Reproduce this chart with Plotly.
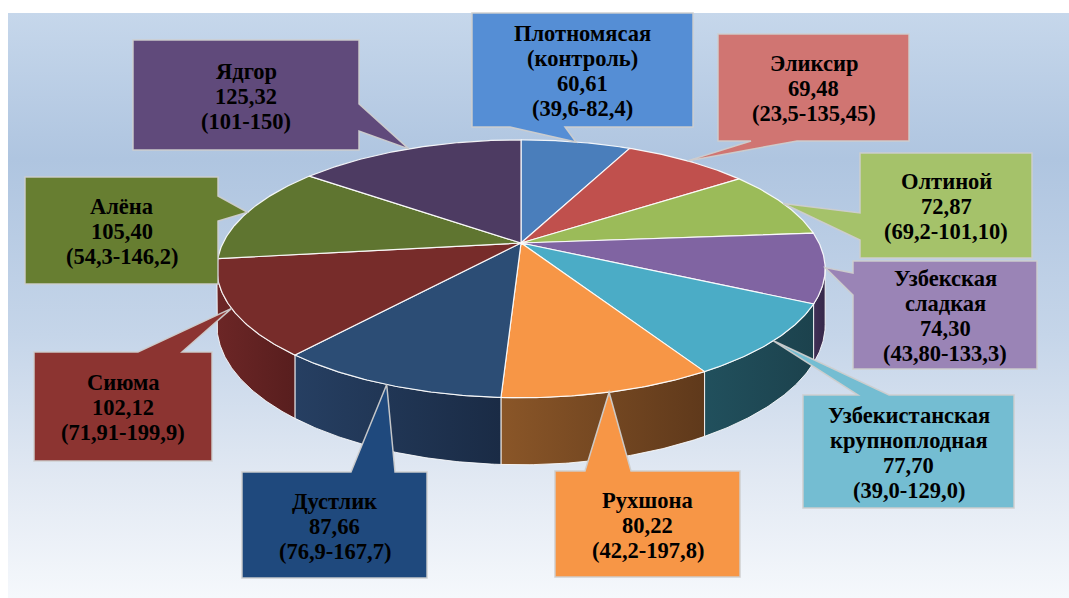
import numpy as np
import plotly.graph_objects as go

# ---------------- data ----------------
names = ["Плотномясая\n(контроль)", "Эликсир", "Олтиной", "Узбекская\nсладкая",
         "Узбекистанская\nкрупноплодная", "Рухшона", "Дустлик", "Сиюма", "Алёна", "Ядгор"]
values = [60.61, 69.48, 72.87, 74.30, 77.70, 80.22, 87.66, 102.12, 105.40, 125.32]
ranges = ["(39,6-82,4)", "(23,5-135,45)", "(69,2-101,10)", "(43,80-133,3)", "(39,0-129,0)",
          "(42,2-197,8)", "(76,9-167,7)", "(71,91-199,9)", "(54,3-146,2)", "(101-150)"]

# ---------------- style ----------------
top_colors = ["#4a7ebb", "#c0504d", "#9bbb59", "#8064a2", "#4bacc6",
              "#f79646", "#2c4d75", "#772c2a", "#5f7530", "#4d3b62"]
wall_colors = [("#2f5078", "#263f60"), ("#7a2f2d", "#612524"), ("#62773a", "#4e5f2e"),
               ("#413056", "#35284a"), ("#21505d", "#1c424d"), ("#8a5628", "#5f391b"),
               ("#263f62", "#1a2b45"), ("#6c2626", "#581e1e"), ("#4a5c26", "#3c4a1f"),
               ("#3a2d4b", "#2f243d")]
box_colors = ["#558ed5", "#d07572", "#a5c26a", "#9a84b6", "#74bdd2",
              "#f79646", "#1f497d", "#8c3431", "#677e31", "#604a7b"]
# callout boxes (x0, y0, x1, y1) and the two base points of each pointer
boxes = [(472, 13, 693, 127), (718, 34, 909, 141), (860, 153, 1032, 258),
         (853, 261, 1037, 369), (803, 395, 1014, 508), (555, 471, 740, 577),
         (242, 472, 427, 578), (34, 352, 212, 461), (25, 177, 218, 284),
         (133, 40, 359, 150)]
tail_bases = [((510, 127), (565, 127)), ((751, 141), (797, 141)), ((860, 213), (860, 240)),
              ((853, 273), (853, 295)), ((858, 395), (889, 395)), ((585, 471), (631, 471)),
              ((351, 472), (395, 472)), ((138, 352), (182, 352)), ((218, 196), (218, 221)),
              ((359, 104), (359, 131))]

W, Hpx = 1069, 598
CX, CY, A, B, D, DEPTH = 521.0, 243.0, 298.0, 123.8, 5.0, 53.6
FONT = "Liberation Serif"


def proj(theta_deg, h=0.0):
    t = np.radians(theta_deg)
    u = np.sin(t)
    v = -np.cos(t)
    s = D / (D - v)
    return CX + A * u * s, CY + (B * v + h) * s


def arc(t1, t2, h=0.0):
    n = max(2, int(abs(t2 - t1) * 2) + 2)
    th = np.linspace(t1, t2, n)
    return proj(th, h)


total = float(np.sum(values))
cum = np.concatenate([[0.0], np.cumsum(values)]) / total * 360.0

fig = go.Figure()

# background panel
fig.add_trace(go.Scatter(
    x=[8, W, W, 8, 8], y=[13, 13, Hpx, Hpx, 13], mode="lines", fill="toself",
    line=dict(width=0),
    fillgradient=dict(type="vertical", colorscale=[
        [0.0, "#f5f8fc"], [0.2, "#e2e9f3"], [0.45, "#c5d5e9"],
        [0.75, "#afc5e0"], [1.0, "#c6d7eb"]]),
    hoverinfo="skip", showlegend=False))

# side walls (visible front part of the cylinder)
vis_a = 180.0 - np.degrees(np.arccos(1.0 / D))
vis_b = 180.0 + np.degrees(np.arccos(1.0 / D))
for i in range(len(values)):
    t1, t2 = max(cum[i], vis_a), min(cum[i + 1], vis_b)
    if t2 <= t1:
        continue
    xt, yt = arc(t1, t2, 0.0)
    xb, yb = arc(t2, t1, DEPTH)
    xs = np.concatenate([xt, xb, xt[:1]])
    ys = np.concatenate([yt, yb, yt[:1]])
    fig.add_trace(go.Scatter(
        x=xs, y=ys, mode="lines", fill="toself",
        line=dict(color="rgba(255,255,255,0.85)", width=1),
        fillgradient=dict(type="horizontal",
                          colorscale=[[0, wall_colors[i][0]], [1, wall_colors[i][1]]]),
        hoverinfo="skip", showlegend=False))

# top face slices
for i in range(len(values)):
    xa, ya = arc(cum[i], cum[i + 1], 0.0)
    xs = np.concatenate([[CX], xa, [CX]])
    ys = np.concatenate([[CY], ya, [CY]])
    fig.add_trace(go.Scatter(
        x=xs, y=ys, mode="lines", fill="toself", fillcolor=top_colors[i],
        line=dict(color="rgba(255,255,255,0.9)", width=1.2),
        hoverinfo="skip", showlegend=False))


def fmt(v):
    return f"{v:.2f}".replace(".", ",")


shapes = []
annotations = []
for i in range(len(values)):
    x0, y0, x1, y1 = boxes[i]
    mid = (cum[i] + cum[i + 1]) / 2.0
    tx, ty = proj(mid, 0.0)
    tip = (float(tx), float(ty))
    b1, b2 = tail_bases[i]
    if b1[1] == y0 and b2[1] == y0:
        bs = sorted([b1, b2], key=lambda p: p[0])
        pts = [(x0, y0), bs[0], tip, bs[1], (x1, y0), (x1, y1), (x0, y1)]
    elif b1[0] == x1 and b2[0] == x1:
        bs = sorted([b1, b2], key=lambda p: p[1])
        pts = [(x0, y0), (x1, y0), bs[0], tip, bs[1], (x1, y1), (x0, y1)]
    elif b1[1] == y1 and b2[1] == y1:
        bs = sorted([b1, b2], key=lambda p: -p[0])
        pts = [(x0, y0), (x1, y0), (x1, y1), bs[0], tip, bs[1], (x0, y1)]
    else:
        bs = sorted([b1, b2], key=lambda p: -p[1])
        pts = [(x0, y0), (x1, y0), (x1, y1), (x0, y1), bs[0], tip, bs[1]]
    path = "M " + " L ".join(f"{px:.1f},{py:.1f}" for px, py in pts) + " Z"
    shapes.append(dict(type="path", path=path, xref="x", yref="y",
                       fillcolor=box_colors[i],
                       line=dict(color="rgba(205,205,205,0.95)", width=1.5),
                       layer="above"))
    lines = names[i].split("\n") + [fmt(values[i]), ranges[i]]
    n = len(lines)
    cyb = (y0 + y1) / 2.0 + 1.0
    step = 25.0
    for k, ln in enumerate(lines):
        annotations.append(dict(
            x=(x0 + x1) / 2.0, y=cyb - (n - 1) * step / 2.0 + k * step,
            xref="x", yref="y", text=f"<b>{ln}</b>", showarrow=False,
            xanchor="center", yanchor="middle",
            font=dict(family=FONT, size=22.5, color="black")))

fig.update_layout(
    width=W, height=Hpx, margin=dict(l=0, r=0, t=0, b=0),
    paper_bgcolor="white", plot_bgcolor="white",
    xaxis=dict(range=[0, W], visible=False, fixedrange=True),
    yaxis=dict(range=[Hpx, 0], visible=False, fixedrange=True),
    shapes=shapes, annotations=annotations, showlegend=False)

fig.write_html("out.html", config={"displayModeBar": False},
               post_script="document.body.style.margin='0';document.body.style.padding='0';")
